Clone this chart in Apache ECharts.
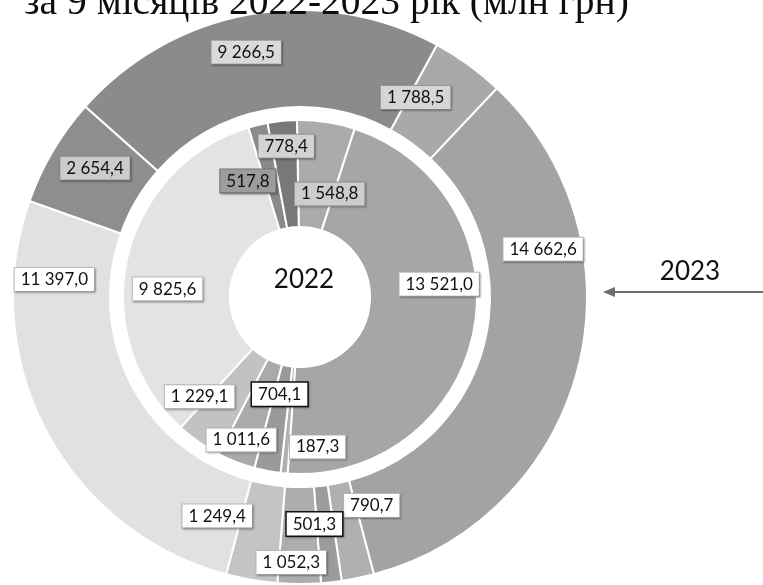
<!DOCTYPE html>
<html>
<head>
<meta charset="utf-8">
<script src="https://cdn.jsdelivr.net/npm/echarts@6/dist/echarts.min.js"></script>
<style>html,body{margin:0;padding:0;background:#fff;}#c{width:763px;height:585px;}</style>
</head>
<body>
<div id="c"></div>
<script>
// ---- data (clockwise order, both rings share category order) ----
const categories = ['Категорія 1','Категорія 2','Категорія 3','Категорія 4','Категорія 5','Категорія 6','Категорія 7','Категорія 8','Категорія 9'];
const values2022 = [1548.8, 13521.0, 187.3, 704.1, 1011.6, 1229.1, 9825.6, 517.8, 778.4];
const values2023 = [1788.5, 14662.6, 790.7, 501.3, 1052.3, 1249.4, 11397.0, 2654.4, 9266.5];
const ringLabels = ['2022', '2023'];
const titleText = 'за 9 місяців 2022-2023 рік (млн грн)';

// ---- styles (kept apart from data) ----
const colors2022 = ['#ababab','#a6a6a6','#b0b0b0','#9a9a9a','#aaaaaa','#c2c2c2','#e3e3e3','#8a8a8a','#787878'];
const colors2023 = ['#a9a9a9','#a3a3a3','#b0b0b0','#9c9c9c','#adadad','#c4c4c4','#e1e1e1','#8e8e8e','#8b8b8b'];
const labelBg2022 = ['#cdcdcd','#ffffff','#ffffff','#ffffff','#ffffff','#ffffff','#ffffff','#9c9c9c','#d3d3d3'];
const labelBg2023 = ['#d6d6d6','#ffffff','#ffffff','#ffffff','#ffffff','#ffffff','#ffffff','#cbcbcb','#dadada'];
const labelBorder2022 = ['#999','#bbb','#bbb','#111','#bbb','#bbb','#bbb','#777','#999'];
const labelBorder2023 = ['#999','#bbb','#bbb','#111','#bbb','#bbb','#bbb','#888','#999'];
// label nudges from the default inside position (layout only)
const nudge2022 = [[11,22],[15,-37],[29,24],[3,-27],[-13,25],[-28,-4],[-9,20],[-22,7],[-1,-25]];
const nudge2023 = [[-26,-4],[9,-107],[23,-28],[-12,-13],[-8,24],[-42,-19],[-32,-130],[3,-6],[-12,-7]];

function fmt(v){
  const s = v.toFixed(1).split('.');
  return s[0].replace(/\B(?=(\d{3})+(?!\d))/g, ' ') + ',' + s[1];
}

const CX = 300, CY = 297;

function ring(name, values, colors, bgs, borders, nudges, radius, startAngle){
  return {
    type: 'pie', name: name, radius: radius, center: [CX, CY],
    startAngle: startAngle, clockwise: true, avoidLabelOverlap: false,
    silent: true, animation: false,
    itemStyle: { borderColor: '#fff', borderWidth: 2 },
    label: {
      show: true, position: 'inside',
      formatter: p => fmt(p.value),
      fontFamily: 'Lato', fontSize: 17, color: '#111',
      padding: [3, 6], borderWidth: 1,
      shadowColor: 'rgba(0,0,0,0.25)', shadowBlur: 2, shadowOffsetX: 1, shadowOffsetY: 1
    },
    labelLine: { show: false },
    labelLayout: p => ({ dx: nudges[p.dataIndex][0], dy: nudges[p.dataIndex][1] }),
    data: values.map((v, i) => ({
      name: categories[i], value: v,
      itemStyle: { color: colors[i] },
      label: { backgroundColor: bgs[i], borderColor: borders[i], borderWidth: borders[i] === '#111' ? 1.5 : 1 }
    }))
  };
}

const chart = echarts.init(document.getElementById('c'), null, { renderer: 'canvas' });
chart.setOption({
  backgroundColor: '#fff',
  animation: false,
  title: {
    text: titleText, left: 19, top: -21,
    textStyle: { fontFamily: 'Liberation Serif', fontSize: 39.5, fontWeight: 'normal', color: '#0d0d0d' }
  },
  series: [
    ring(ringLabels[0], values2022, colors2022, labelBg2022, labelBorder2022, nudge2022, [70, 177], 91),
    ring(ringLabels[1], values2023, colors2023, labelBg2023, labelBorder2023, nudge2023, [190, 287], 61.5)
  ],
  graphic: [
    { type: 'text', x: 304, y: 280, z: 100,
      style: { text: ringLabels[0], fontFamily: 'Lato', fontSize: 26, fill: '#111', align: 'center', verticalAlign: 'middle' } },
    { type: 'text', x: 690, y: 272, z: 100,
      style: { text: ringLabels[1], fontFamily: 'Lato', fontSize: 26, fill: '#111', align: 'center', verticalAlign: 'middle' } },
    { type: 'line', z: 100, shape: { x1: 763, y1: 292, x2: 612, y2: 292 }, style: { stroke: '#6e6e6e', lineWidth: 2 } },
    { type: 'polygon', z: 100, shape: { points: [[603, 292], [615, 287], [615, 297]] }, style: { fill: '#6e6e6e' } }
  ]
});
</script>
</body>
</html>
